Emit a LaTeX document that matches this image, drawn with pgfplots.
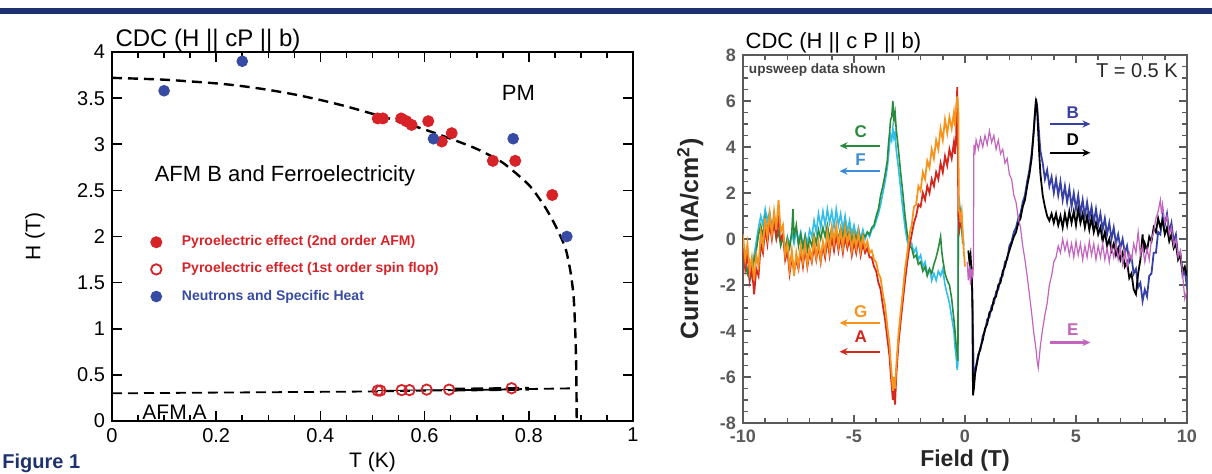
\documentclass[border=0pt]{standalone}
\usepackage{fontspec}
\setmainfont{Liberation Sans}
\usepackage{pgfplots}
\pgfplotsset{compat=1.18}
\usetikzlibrary{arrows.meta}
\definecolor{navy}{RGB}{31,50,112}
\definecolor{pred}{RGB}{215,35,40}
\definecolor{pblue}{RGB}{55,75,165}
\definecolor{corange}{RGB}{247,148,30}
\definecolor{cred}{RGB}{212,40,30}
\definecolor{cgreen}{RGB}{40,140,60}
\definecolor{ccyan}{RGB}{50,190,235}
\definecolor{cblue}{RGB}{55,65,165}
\definecolor{cpurple}{RGB}{195,100,190}
\definecolor{fblue}{RGB}{60,140,215}
\definecolor{axgray}{RGB}{90,90,90}
\begin{document}
\begin{tikzpicture}
\path[use as bounding box] (0,0) rectangle (606pt,236.5pt);
\fill[navy] (0,229.5pt) rectangle (606pt,232.5pt);
\node[anchor=base west, font=\bfseries\fontsize{10}{12}\selectfont, text=navy, inner sep=0] at (1pt,2.2pt) {Figure 1};

% ---------------- left panel ----------------
\begin{axis}[
  at={(56pt,26pt)}, anchor=south west, width=260.5pt, height=184.5pt, scale only axis,
  clip mode=individual,
  xmin=0, xmax=1, ymin=0, ymax=4,
  xtick={0,0.2,0.4,0.6,0.8,1}, ytick={0,0.5,1,1.5,2,2.5,3,3.5,4},
  minor x tick num=3,
  tick align=inside, major tick length=5pt, minor tick length=3pt,
  tick style={black, line width=0.8pt},
  axis line style={line width=1pt},
  /pgf/number format/assume math mode=true,
  tick label style={font=\fontsize{10}{12}\selectfont},
  xlabel={T (K)}, ylabel={H (T)},
  label style={font=\fontsize{10.5}{12}\selectfont},
  xlabel style={at={(axis description cs:0.5,-0.112)}, anchor=center},
  ylabel style={at={(axis description cs:-0.148,0.5)}, anchor=center},
  legend style={at={(axis cs:0.062,2.10)}, anchor=north west, draw=none, fill=none,
    font=\bfseries\fontsize{7}{8}\selectfont, row sep=3pt, column sep=8pt},
  legend cell align=left,
]
% phase boundaries
\addplot[black, line width=1.2pt, dash pattern=on 5pt off 3pt, smooth, tension=0.4, forget plot] coordinates {
(0,3.72) (0.1,3.70) (0.2,3.66) (0.25,3.63) (0.3,3.59) (0.35,3.54) (0.4,3.48) (0.45,3.41)
(0.5,3.33) (0.55,3.25) (0.6,3.16) (0.65,3.06) (0.7,2.95) (0.75,2.80) (0.8,2.56) (0.83,2.33)
(0.85,2.13) (0.87,1.88) (0.88,1.62) (0.886,1.35) (0.889,1.0) (0.891,0.6) (0.892,0.0)};
\addplot[black, line width=0.9pt, dash pattern=on 5pt off 3pt, forget plot] coordinates {(0,0.30) (0.5,0.32) (0.89,0.355)};
\addplot[black, line width=0.5pt, forget plot] coordinates {(0.51,0.33) (0.65,0.34)};
\addplot[black, line width=1.9pt, dash pattern=on 6pt off 3pt, forget plot] coordinates {(0.655,0.34) (0.80,0.35)};
% data
\addplot[only marks, mark=*, mark size=2.8pt, color=pred] coordinates {
(0.51,3.28) (0.52,3.28) (0.555,3.28) (0.565,3.25) (0.575,3.21) (0.607,3.25)
(0.633,3.03) (0.652,3.12) (0.731,2.82) (0.774,2.82) (0.845,2.45)};
\addlegendentry{\textcolor{pred}{Pyroelectric effect (2nd order AFM)}}
\addplot[only marks, mark=o, mark size=2.6pt, color=pred, mark options={line width=0.9pt, fill=white}] coordinates {
(0.51,0.33) (0.515,0.33) (0.556,0.335) (0.571,0.335) (0.604,0.34) (0.647,0.34) (0.767,0.355)};
\addlegendentry{\textcolor{pred}{Pyroelectric effect (1st order spin flop)}}
\addplot[only marks, mark=*, mark size=2.7pt, color=pblue] coordinates {
(0.10,3.58) (0.25,3.90) (0.617,3.06) (0.77,3.06) (0.873,2.0)};
\addlegendentry{\textcolor{pblue}{Neutrons and Specific Heat}}
\node[font=\fontsize{11}{13}\selectfont] at (axis cs:0.78,3.56) {PM};
\node[font=\fontsize{11}{13}\selectfont] at (axis cs:0.332,2.66) {AFM B and Ferroelectricity};
\node[font=\fontsize{10.5}{12}\selectfont] at (axis cs:0.12,0.09) {AFM A};
\node[anchor=base west, font=\fontsize{12}{14}\selectfont, inner sep=0] at ([yshift=3pt]rel axis cs:0.006,1) {CDC (H || cP || b)};
\end{axis}

% ---------------- right panel ----------------
\begin{axis}[
  at={(371.5pt,25pt)}, anchor=south west, width=222pt, height=184pt, scale only axis,
  clip mode=individual,
  xmin=-10, xmax=10, ymin=-8, ymax=8,
  xtick={-10,-5,0,5,10}, ytick={-8,-6,-4,-2,0,2,4,6,8},
  minor x tick num=4, minor y tick num=3,
  tick align=inside, major tick length=4pt, minor tick length=2.3pt,
  tick style={axgray, line width=0.8pt},
  axis line style={axgray, line width=1.2pt},
  /pgf/number format/assume math mode=true,
  tick label style={font=\bfseries\fontsize{9}{11}\selectfont, text=axgray},
  xlabel={Field (T)}, ylabel={Current (nA/cm$^{\mathbf{2}}$)},
  xlabel style={font=\bfseries\fontsize{11.5}{13}\selectfont, text=black!85, at={(axis description cs:0.5,-0.101)}, anchor=center},
  ylabel style={font=\bfseries\fontsize{12.5}{14}\selectfont, text=black!85, at={(axis description cs:-0.119,0.5)}, anchor=center},
]
% cyan F
\addplot[ccyan, line width=0.8pt] coordinates {
(-10.0,-0.3) (-9.9,-1.0) (-9.8,-1.3) (-9.7,-1.8) (-9.6,-1.2) (-9.5,-0.7) (-9.4,-0.1) (-9.3,0.5) (-9.2,1.0) (-9.1,0.6)
(-9.0,1.3) (-8.9,0.8) (-8.8,1.2) (-8.7,0.5) (-8.6,1.0) (-8.5,0.2) (-8.4,0.6) (-8.3,-0.1) (-8.2,0.2) (-8.1,-0.4)
(-8.0,0.1) (-7.9,-0.3) (-7.8,0.3) (-7.7,-0.2) (-7.6,0.4) (-7.5,-0.1) (-7.4,0.3) (-7.3,-0.3) (-7.2,0.2) (-7.1,-0.2)
(-7.0,0.4) (-6.9,0.1) (-6.8,0.8) (-6.7,0.3) (-6.6,1.1) (-6.5,0.5) (-6.4,1.2) (-6.3,0.6) (-6.2,1.3) (-6.1,0.7)
(-6.0,1.2) (-5.9,0.5) (-5.8,1.3) (-5.7,0.6) (-5.6,1.1) (-5.5,0.4) (-5.4,1.0) (-5.3,0.3) (-5.2,0.8) (-5.1,0.2)
(-5.0,0.6) (-4.9,0.1) (-4.8,0.5) (-4.7,0.0) (-4.6,0.4) (-4.5,0.0) (-4.4,0.3) (-4.3,0.1) (-4.2,0.4) (-4.1,0.5)
(-4.0,0.8) (-3.9,1.1) (-3.8,1.5) (-3.7,2.0) (-3.6,2.5) (-3.5,3.1) (-3.45,3.6) (-3.4,4.1) (-3.35,4.5) (-3.3,4.3)
(-3.25,4.8) (-3.2,4.4) (-3.15,4.6) (-3.1,3.9) (-3.0,3.1) (-2.9,2.2) (-2.8,1.3) (-2.7,0.5) (-2.6,-0.1) (-2.5,-0.4)
(-2.4,-0.2) (-2.3,-0.6) (-2.2,-0.4) (-2.1,-0.9) (-2.0,-0.7) (-1.9,-1.2) (-1.8,-1.0) (-1.7,-1.5) (-1.6,-1.3) (-1.5,-1.8)
(-1.4,-1.5) (-1.3,-1.8) (-1.2,-1.4) (-1.1,-1.6) (-1.0,-1.3) (-0.9,-2.0) (-0.8,-2.4) (-0.7,-2.8) (-0.6,-3.4) (-0.5,-4.0)
(-0.45,-4.7) (-0.4,-5.1) (-0.35,-5.7) (-0.32,-5.4) (-0.3,1.2) (-0.25,1.6) (-0.2,1.1) (-0.15,0.7) (-0.1,0.2) (-0.05,-0.3)};
% green C
\addplot[cgreen, line width=0.8pt] coordinates {
(-10.0,-0.6) (-9.9,-1.1) (-9.8,-1.5) (-9.7,-1.0) (-9.6,-1.6) (-9.5,-0.9) (-9.4,-0.5) (-9.3,0.2) (-9.2,0.6) (-9.1,0.1)
(-9.0,0.9) (-8.9,0.3) (-8.8,1.0) (-8.7,0.4) (-8.6,0.8) (-8.5,0.0) (-8.4,0.3) (-8.3,-0.3) (-8.2,0.1) (-8.1,-0.5)
(-8.0,0.0) (-7.9,-0.4) (-7.8,0.3) (-7.75,1.3) (-7.7,0.1) (-7.6,0.6) (-7.5,-0.3) (-7.4,0.2) (-7.3,-0.4) (-7.2,0.1)
(-7.1,-0.5) (-7.0,0.0) (-6.9,-0.3) (-6.8,0.2) (-6.7,-0.2) (-6.6,0.4) (-6.5,0.0) (-6.4,0.5) (-6.3,0.1) (-6.2,0.6)
(-6.1,0.0) (-6.0,0.5) (-5.9,-0.1) (-5.8,0.4) (-5.7,0.0) (-5.6,0.5) (-5.5,0.1) (-5.4,0.6) (-5.3,0.0) (-5.2,0.4)
(-5.1,-0.1) (-5.0,0.3) (-4.9,0.0) (-4.8,0.3) (-4.7,-0.1) (-4.6,0.2) (-4.5,0.1) (-4.4,0.3) (-4.3,0.2) (-4.2,0.5)
(-4.1,0.6) (-4.0,1.0) (-3.9,1.3) (-3.8,1.9) (-3.7,2.3) (-3.6,2.8) (-3.5,3.4) (-3.45,4.1) (-3.4,4.6) (-3.35,5.2)
(-3.3,5.3) (-3.25,6.0) (-3.2,5.2) (-3.15,5.5) (-3.1,4.8) (-3.0,3.9) (-2.9,2.9) (-2.8,2.0) (-2.7,1.0) (-2.6,0.2)
(-2.5,-0.3) (-2.4,-0.4) (-2.3,-0.8) (-2.2,-0.7) (-2.1,-1.1) (-2.0,-1.0) (-1.9,-1.4) (-1.8,-1.2) (-1.7,-1.6) (-1.6,-1.3)
(-1.5,-1.5) (-1.4,-1.1) (-1.3,-0.8) (-1.2,-0.4) (-1.1,0.1) (-1.05,-0.5) (-1.0,-0.9) (-0.9,-1.5) (-0.8,-1.8) (-0.7,-2.0)
(-0.6,-2.6) (-0.5,-3.5) (-0.45,-4.0) (-0.4,-4.6) (-0.35,-5.0) (-0.32,-5.3) (-0.3,0.8) (-0.25,1.4) (-0.2,1.0) (-0.15,0.5) (-0.1,-0.2)};
% red A
\addplot[cred, line width=0.9pt] coordinates {
(-10.0,-0.4) (-9.9,-1.3) (-9.8,-0.6) (-9.7,-1.8) (-9.6,-1.2) (-9.5,-2.4) (-9.4,-1.3) (-9.3,-1.6) (-9.2,-0.2) (-9.1,-0.6)
(-9.0,0.5) (-8.9,-0.2) (-8.8,0.7) (-8.7,0.0) (-8.6,0.8) (-8.5,0.1) (-8.4,1.0) (-8.3,0.0) (-8.2,0.2) (-8.1,-0.9)
(-8.0,-0.5) (-7.9,-1.5) (-7.8,-0.8) (-7.7,-1.4) (-7.6,-0.9) (-7.5,-1.3) (-7.4,-0.5) (-7.3,-1.2) (-7.2,-0.4) (-7.1,-1.2)
(-7.0,-0.6) (-6.9,-1.0) (-6.8,-0.3) (-6.7,-0.9) (-6.6,-0.3) (-6.5,-1.0) (-6.4,-0.3) (-6.3,-0.8) (-6.2,0.0) (-6.1,-0.7)
(-6.0,0.1) (-5.9,-0.5) (-5.8,0.2) (-5.7,-0.5) (-5.6,0.1) (-5.5,-0.6) (-5.4,0.1) (-5.3,-0.4) (-5.2,0.0) (-5.1,-0.7)
(-5.0,-0.1) (-4.9,-0.6) (-4.8,0.0) (-4.7,-0.7) (-4.6,-0.2) (-4.5,-0.6) (-4.4,-0.4) (-4.3,-0.8) (-4.2,-0.8) (-4.1,-1.2)
(-4.0,-1.4) (-3.9,-1.9) (-3.8,-2.2) (-3.7,-2.9) (-3.6,-3.5) (-3.5,-4.3) (-3.4,-5.1) (-3.35,-5.8) (-3.3,-6.4) (-3.25,-7.0)
(-3.2,-6.5) (-3.15,-7.2) (-3.1,-6.0) (-3.05,-5.3) (-3.0,-4.6) (-2.9,-3.6) (-2.8,-2.7) (-2.7,-1.8) (-2.6,-1.0) (-2.5,-0.3)
(-2.4,0.2) (-2.3,0.7) (-2.2,1.0) (-2.1,1.5) (-2.0,1.4) (-1.9,2.0) (-1.8,1.7) (-1.7,2.3) (-1.6,2.0) (-1.5,2.6)
(-1.4,2.3) (-1.3,2.9) (-1.2,2.6) (-1.1,3.3) (-1.0,2.9) (-0.9,3.6) (-0.8,3.2) (-0.7,3.9) (-0.6,3.5) (-0.5,4.2)
(-0.45,3.7) (-0.4,4.4) (-0.35,6.6) (-0.32,4.0) (-0.3,1.0) (-0.25,0.4) (-0.2,0.7)};
% orange G
\addplot[corange, line width=0.9pt] coordinates {
(-10.0,0.2) (-9.9,-0.9) (-9.8,-0.2) (-9.7,-1.4) (-9.6,-0.8) (-9.5,-1.8) (-9.4,-0.7) (-9.3,-1.2) (-9.2,0.3) (-9.1,-0.3)
(-9.0,0.9) (-8.9,0.1) (-8.8,1.1) (-8.7,0.2) (-8.6,1.2) (-8.5,0.4) (-8.4,1.7) (-8.3,0.3) (-8.2,0.6) (-8.1,-0.7)
(-8.0,-0.2) (-7.9,-1.3) (-7.8,-0.5) (-7.7,-1.6) (-7.6,-0.6) (-7.5,-1.2) (-7.4,-0.3) (-7.3,-1.0) (-7.2,-0.2) (-7.1,-1.1)
(-7.0,-0.4) (-6.9,-0.9) (-6.8,0.0) (-6.7,-0.8) (-6.6,-0.1) (-6.5,-0.9) (-6.4,-0.1) (-6.3,-0.6) (-6.2,0.3) (-6.1,-0.5)
(-6.0,0.5) (-5.9,-0.2) (-5.8,0.6) (-5.7,-0.3) (-5.6,0.4) (-5.5,-0.4) (-5.4,0.5) (-5.3,-0.2) (-5.2,0.3) (-5.1,-0.5)
(-5.0,0.2) (-4.9,-0.4) (-4.8,0.3) (-4.7,-0.5) (-4.6,0.1) (-4.5,-0.4) (-4.4,-0.1) (-4.3,-0.6) (-4.2,-0.5) (-4.1,-0.9)
(-4.0,-1.0) (-3.9,-1.5) (-3.8,-1.7) (-3.7,-2.4) (-3.6,-2.9) (-3.5,-3.8) (-3.4,-4.6) (-3.35,-5.3) (-3.3,-5.9) (-3.25,-6.6)
(-3.2,-6.0) (-3.15,-6.5) (-3.1,-5.6) (-3.05,-4.9) (-3.0,-4.2) (-2.9,-3.2) (-2.8,-2.3) (-2.7,-1.3) (-2.6,-0.6) (-2.5,0.2)
(-2.4,0.6) (-2.3,1.4) (-2.2,1.5) (-2.1,2.3) (-2.0,2.1) (-1.9,2.9) (-1.8,2.6) (-1.7,3.4) (-1.6,3.1) (-1.5,3.9)
(-1.4,3.5) (-1.3,4.3) (-1.2,3.9) (-1.1,4.8) (-1.0,4.3) (-0.9,5.2) (-0.8,4.6) (-0.7,5.3) (-0.6,4.8) (-0.5,5.5)
(-0.45,4.9) (-0.4,5.7) (-0.35,6.2) (-0.3,5.6) (-0.28,1.3) (-0.2,0.9) (-0.15,1.2) (-0.1,0.2) (-0.05,-0.6) (0.0,-1.2)};
% blue B
\addplot[cblue, line width=0.9pt] coordinates {
(0.3,-1.2) (0.35,-3.5) (0.4,-6.3) (0.45,-5.8) (0.5,-5.5) (0.6,-5.0) (0.7,-4.8) (0.8,-4.2) (0.9,-4.0) (1.0,-3.5)
(1.1,-3.4) (1.2,-2.9) (1.3,-2.8) (1.4,-2.3) (1.5,-2.2) (1.6,-1.7) (1.7,-1.6) (1.8,-1.0) (1.9,-0.9) (2.0,-0.3)
(2.1,-0.1) (2.2,0.3) (2.3,0.5) (2.4,0.9) (2.5,1.1) (2.6,1.6) (2.7,1.9) (2.8,2.5) (2.9,3.0) (3.0,3.7)
(3.05,4.2) (3.1,4.8) (3.15,5.5) (3.2,6.0) (3.25,5.8) (3.3,5.1) (3.35,4.4) (3.4,3.8) (3.5,3.3) (3.6,2.6)
(3.7,3.0) (3.8,2.3) (3.9,2.7) (4.0,2.0) (4.1,2.6) (4.2,1.9) (4.3,2.5) (4.4,1.7) (4.5,2.3) (4.6,1.6)
(4.7,2.2) (4.8,1.4) (4.9,2.0) (5.0,1.3) (5.1,1.9) (5.2,1.1) (5.3,1.7) (5.4,1.0) (5.5,1.6) (5.6,0.9)
(5.7,1.4) (5.8,0.7) (5.9,1.3) (6.0,0.6) (6.1,1.1) (6.2,0.4) (6.3,0.9) (6.4,0.2) (6.5,0.7) (6.6,0.0)
(6.7,0.5) (6.8,-0.2) (6.9,0.2) (7.0,-0.4) (7.1,0.0) (7.2,-0.6) (7.3,-0.3) (7.4,-1.0) (7.5,-0.8) (7.6,-1.5)
(7.7,-1.3) (7.8,-2.1) (7.9,-1.9) (8.0,-2.7) (8.1,-2.2) (8.2,-2.5) (8.3,-1.6) (8.4,-1.5) (8.5,-0.6) (8.6,-0.6)
(8.7,0.3) (8.8,0.2) (8.9,1.0) (9.0,0.6) (9.1,1.1) (9.2,0.3) (9.3,0.7) (9.4,-0.1) (9.5,0.2) (9.6,-0.8)
(9.7,-0.6) (9.8,-1.6) (9.9,-1.4) (10.0,-2.1)};
% black D
\addplot[black, line width=0.9pt] coordinates {
(0.15,-0.5) (0.2,-1.0) (0.25,-0.7) (0.3,-1.5) (0.33,-2.5) (0.36,-6.8) (0.4,-6.5) (0.45,-5.9) (0.5,-5.6) (0.6,-5.1)
(0.7,-4.7) (0.8,-4.4) (0.9,-3.9) (1.0,-3.7) (1.1,-3.2) (1.2,-3.1) (1.3,-2.6) (1.4,-2.5) (1.5,-2.0) (1.6,-1.9)
(1.7,-1.4) (1.8,-1.2) (1.9,-0.8) (2.0,-0.5) (2.1,-0.2) (2.2,0.1) (2.3,0.3) (2.4,0.7) (2.5,0.9) (2.6,1.4)
(2.7,1.7) (2.8,2.3) (2.9,2.8) (3.0,3.5) (3.05,4.1) (3.1,4.7) (3.15,5.4) (3.2,6.1) (3.25,5.6) (3.3,4.6)
(3.35,3.6) (3.4,2.8) (3.5,1.9) (3.6,1.4) (3.7,1.0) (3.8,0.8) (3.9,1.1) (4.0,0.7) (4.1,1.1) (4.2,0.6)
(4.3,1.0) (4.4,0.5) (4.5,1.1) (4.6,0.6) (4.7,1.2) (4.8,0.7) (4.9,1.2) (5.0,0.6) (5.1,1.3) (5.2,0.7)
(5.3,1.1) (5.4,0.5) (5.5,1.0) (5.6,0.4) (5.7,0.9) (5.8,0.3) (5.9,0.7) (6.0,0.2) (6.1,0.5) (6.2,-0.1)
(6.3,0.3) (6.4,-0.3) (6.5,0.0) (6.6,-0.5) (6.7,-0.2) (6.8,-0.7) (6.9,-0.4) (7.0,-0.9) (7.1,-0.6) (7.2,-1.2)
(7.3,-1.0) (7.4,-1.7) (7.5,-1.5) (7.6,-2.2) (7.7,-2.4) (7.8,-1.5) (7.9,-0.9) (8.0,0.2) (8.05,-0.6) (8.1,-0.2)
(8.2,-0.5) (8.3,0.1) (8.4,-0.1) (8.5,0.5) (8.6,0.3) (8.7,0.9) (8.8,0.5) (8.9,0.8) (9.0,0.2) (9.1,0.5)
(9.2,-0.1) (9.3,0.2) (9.4,-0.4) (9.5,-0.2) (9.6,-0.9) (9.7,-0.7) (9.8,-1.4) (9.9,-1.2) (10.0,-1.6)};
% purple E
\addplot[cpurple, line width=0.6pt] coordinates {
(0.1,-1.0) (0.15,-1.8) (0.2,-1.2) (0.25,-2.0) (0.3,-1.3) (0.35,-1.7) (0.38,-1.1) (0.4,4.1) (0.45,3.8) (0.5,4.3)
(0.6,3.9) (0.7,4.4) (0.8,4.0) (0.9,4.5) (1.0,4.1) (1.1,4.7) (1.2,4.2) (1.3,4.5) (1.4,3.9) (1.5,4.3)
(1.6,3.7) (1.7,3.9) (1.8,3.3) (1.9,3.5) (2.0,2.8) (2.1,2.6) (2.2,1.9) (2.3,1.6) (2.4,0.9) (2.5,0.5)
(2.6,-0.3) (2.7,-0.9) (2.8,-1.6) (2.9,-2.4) (3.0,-3.2) (3.1,-4.1) (3.2,-4.8) (3.25,-5.3) (3.3,-5.6) (3.35,-5.1)
(3.4,-4.6) (3.5,-3.9) (3.6,-3.3) (3.7,-2.8) (3.8,-2.0) (3.9,-1.6) (4.0,-1.0) (4.1,-0.8) (4.2,-0.3) (4.3,-0.6)
(4.4,0.0) (4.5,-0.5) (4.6,-0.1) (4.7,-0.7) (4.8,-0.2) (4.9,-0.8) (5.0,-0.1) (5.1,-0.7) (5.2,-0.2) (5.3,-0.9)
(5.4,-0.3) (5.5,-0.8) (5.6,-0.1) (5.7,-0.7) (5.8,-0.2) (5.9,-0.9) (6.0,-0.3) (6.1,-0.8) (6.2,-0.2) (6.3,-0.9)
(6.4,-0.4) (6.5,-1.0) (6.6,-0.3) (6.7,-0.8) (6.8,-0.2) (6.9,-0.9) (7.0,-0.4) (7.1,-1.1) (7.2,-0.5) (7.3,-1.2)
(7.4,-0.6) (7.5,-0.9) (7.6,-0.2) (7.7,-0.6) (7.8,0.3) (7.85,-0.2) (7.9,-0.7) (8.0,-0.3) (8.1,-1.0) (8.2,-0.4)
(8.3,-0.9) (8.4,0.0) (8.5,0.3) (8.6,0.9) (8.7,1.2) (8.8,1.7) (8.85,1.1) (8.9,1.5) (9.0,0.7) (9.1,1.0)
(9.2,0.2) (9.3,0.5) (9.4,-0.3) (9.5,0.0) (9.6,-0.8) (9.7,-0.5) (9.8,-1.5) (9.9,-2.6) (10.0,-2.2)};
% arrows and labels
\tikzset{arr/.style={line width=1.1pt, -{Stealth[length=4pt,width=3.6pt]}}, lab/.style={font=\bfseries\fontsize{8.5}{10}\selectfont}}
\draw[arr, cgreen] (axis cs:-3.85,4.05) -- (axis cs:-5.65,4.05);
\node[lab, text=cgreen] at (axis cs:-4.7,4.65) {C};
\draw[arr, fblue] (axis cs:-3.85,2.95) -- (axis cs:-5.65,2.95);
\node[lab, text=fblue] at (axis cs:-4.7,3.45) {F};
\draw[arr, corange] (axis cs:-3.85,-3.65) -- (axis cs:-5.65,-3.65);
\node[lab, text=corange] at (axis cs:-4.7,-3.15) {G};
\draw[arr, cred] (axis cs:-3.85,-4.9) -- (axis cs:-5.65,-4.9);
\node[lab, text=cred] at (axis cs:-4.7,-4.25) {A};
\draw[arr, cblue] (axis cs:3.85,5.0) -- (axis cs:5.65,5.0);
\node[lab, text=cblue] at (axis cs:4.85,5.5) {B};
\draw[arr, black] (axis cs:3.85,3.75) -- (axis cs:5.65,3.75);
\node[lab, text=black] at (axis cs:4.85,4.3) {D};
\draw[arr, cpurple] (axis cs:3.85,-4.5) -- (axis cs:5.65,-4.5);
\node[lab, text=cpurple] at (axis cs:4.85,-3.95) {E};
\node[anchor=west, font=\bfseries\fontsize{6.8}{8}\selectfont, text=black!75, inner sep=0] at (axis cs:-9.75,7.35) {upsweep data shown};
\node[anchor=east, font=\fontsize{10}{12}\selectfont, text=black!85, inner sep=0] at (axis cs:9.6,7.3) {T = 0.5 K};
\node[anchor=base west, font=\fontsize{11}{13}\selectfont, inner sep=0] at ([yshift=3pt]rel axis cs:0.005,1) {CDC (H || c P || b)};
\end{axis}
\end{tikzpicture}
\end{document}
